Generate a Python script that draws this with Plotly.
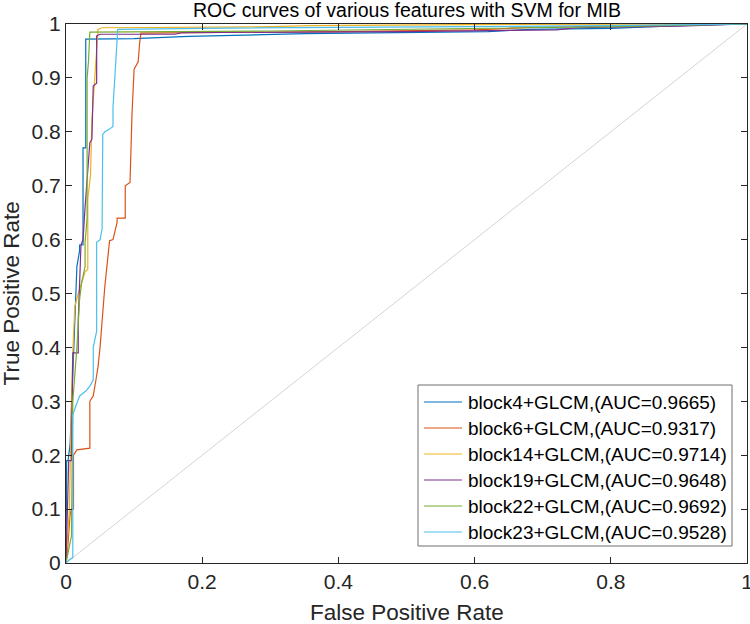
import plotly.graph_objects as go

# ---- data ----
labels = [
    "block4+GLCM,(AUC=0.9665)",
    "block6+GLCM,(AUC=0.9317)",
    "block14+GLCM,(AUC=0.9714)",
    "block19+GLCM,(AUC=0.9648)",
    "block22+GLCM,(AUC=0.9692)",
    "block23+GLCM,(AUC=0.9528)",
]

fpr_block4 = [0, 0.001, 0.003, 0.006, 0.01, 0.013, 0.016, 0.02, 0.02, 0.025, 0.025, 0.029, 0.029,
              0.1, 0.18, 0.35, 0.62, 0.68, 0.8, 0.9, 1]
tpr_block4 = [0, 0.19, 0.19, 0.22, 0.35, 0.45, 0.55, 0.58, 0.59, 0.59, 0.77, 0.77, 0.972,
              0.973, 0.977, 0.982, 0.986, 0.99, 0.992, 0.997, 1]

fpr_block6 = [0, 0.002, 0.006, 0.008, 0.011, 0.011, 0.016, 0.035, 0.035, 0.04, 0.044, 0.047, 0.050,
              0.053, 0.056, 0.057, 0.064, 0.069, 0.075, 0.075, 0.087, 0.087, 0.094, 0.097, 0.1,
              0.106, 0.108, 0.11, 0.4, 0.6, 0.69, 0.8, 1]
tpr_block6 = [0, 0.02, 0.09, 0.10, 0.10, 0.20, 0.21, 0.213, 0.30, 0.31, 0.34, 0.364, 0.40,
              0.45, 0.50, 0.513, 0.598, 0.60, 0.632, 0.64, 0.64, 0.70, 0.706, 0.836, 0.916,
              0.93, 0.963, 0.983, 0.986, 0.989, 0.994, 0.996, 1]

fpr_block14 = [0, 0.005, 0.008, 0.009, 0.010, 0.013, 0.018, 0.028, 0.032, 0.032, 0.036, 0.038,
               0.042, 0.045, 0.047, 0.053, 0.3, 0.36, 0.6, 1]
tpr_block14 = [0, 0.1, 0.3, 0.39, 0.392, 0.476, 0.50, 0.54, 0.545, 0.675, 0.72, 0.82,
               0.89, 0.95, 0.99, 0.993, 0.995, 0.997, 0.999, 1]

fpr_block19 = [0, 0.002, 0.004, 0.008, 0.010, 0.018, 0.018, 0.022, 0.025, 0.028, 0.032, 0.035,
               0.038, 0.040, 0.045, 0.045, 0.05, 0.16, 0.17, 0.5, 0.72, 0.75, 0.9, 1]
tpr_block19 = [0, 0.12, 0.19, 0.19, 0.39, 0.39, 0.45, 0.59, 0.60, 0.66, 0.725, 0.78,
               0.786, 0.885, 0.89, 0.978, 0.981, 0.981, 0.984, 0.986, 0.989, 0.993, 0.996, 1]

fpr_block22 = [0, 0.008, 0.010, 0.012, 0.016, 0.02, 0.023, 0.028, 0.028, 0.031, 0.031, 0.033,
               0.035, 0.3, 0.6, 0.8, 1]
tpr_block22 = [0, 0.05, 0.30, 0.335, 0.40, 0.49, 0.52, 0.55, 0.595, 0.64, 0.90, 0.93,
               0.985, 0.987, 0.992, 0.995, 1]

fpr_block23 = [0, 0.004, 0.010, 0.010, 0.014, 0.020, 0.030, 0.036, 0.040, 0.040, 0.045, 0.045,
               0.050, 0.053, 0.054, 0.057, 0.064, 0.069, 0.069, 0.072, 0.075, 0.076, 0.2, 0.5,
               0.8, 1]
tpr_block23 = [0, 0.005, 0.01, 0.275, 0.29, 0.31, 0.32, 0.33, 0.34, 0.40, 0.43, 0.595,
               0.60, 0.62, 0.795, 0.80, 0.805, 0.81, 0.845, 0.916, 0.987, 0.99, 0.992, 0.994,
               0.997, 1]

chance_x = [0, 1]
chance_y = [0, 1]

title_text = "ROC curves of various features with SVM for MIB"
x_title = "False Positive Rate"
y_title = "True Positive Rate"

colors = ["#0072BD", "#D95319", "#EDB120", "#7E2F8E", "#77AC30", "#4DBEEE"]

series = [
    (fpr_block4, tpr_block4),
    (fpr_block6, tpr_block6),
    (fpr_block14, tpr_block14),
    (fpr_block19, tpr_block19),
    (fpr_block22, tpr_block22),
    (fpr_block23, tpr_block23),
]

FONT = "Liberation Sans, Arial, Helvetica, sans-serif"
W, H = 750, 624
ML, MR, MT, MB = 66, 3, 24, 61
PW, PH = W - ML - MR, H - MT - MB


def px_x(px):
    return (px - ML) / PW


def px_y(py):
    return (H - MB - py) / PH


fig = go.Figure()
fig.add_trace(go.Scatter(x=chance_x, y=chance_y, mode="lines",
                         line=dict(color="#d4d4d4", width=1), showlegend=False,
                         hoverinfo="skip"))
for (xs, ys), name, c in zip(series, labels, colors):
    fig.add_trace(go.Scatter(x=xs, y=ys, mode="lines", name=name, showlegend=False,
                             line=dict(color=c, width=1.2)))

axis_common = dict(
    range=[0, 1], showgrid=False, zeroline=False, automargin=False,
    showline=True, linecolor="#262626", linewidth=1, mirror="ticks",
    ticks="inside", ticklen=6, tickcolor="#262626", tickwidth=1,
    tickfont=dict(family=FONT, size=21, color="#262626"),
    ticklabeloverflow="allow",
)

# legend box drawn as shapes + text (MATLAB-style placement)
LEG_L, LEG_R, LEG_T, LEG_B = 418, 732, 385, 546
ROW0, ROW_STEP = 402, 26
shapes = [dict(type="rect", xref="paper", yref="paper", layer="above",
               x0=px_x(LEG_L), x1=px_x(LEG_R), y0=px_y(LEG_B), y1=px_y(LEG_T),
               fillcolor="white", line=dict(color="#6e6e6e", width=1))]
annotations = []
for i, (name, c) in enumerate(zip(labels, colors)):
    yy = px_y(ROW0 + ROW_STEP * i)
    shapes.append(dict(type="line", xref="paper", yref="paper", layer="above",
                       x0=px_x(424), x1=px_x(462), y0=yy, y1=yy,
                       line=dict(color=c, width=1.2)))
    annotations.append(dict(text=name, xref="paper", yref="paper", x=px_x(466), y=yy,
                            xanchor="left", yanchor="middle", showarrow=False,
                            font=dict(family=FONT, size=19, color="#000000")))

annotations += [
    dict(text=title_text, xref="paper", yref="paper",
         x=0.5, y=px_y(10), xanchor="center", yanchor="middle",
         showarrow=False, font=dict(family=FONT, size=19.5, color="#000000")),
    dict(text=x_title, xref="paper", yref="paper",
         x=0.5, y=px_y(612), xanchor="center", yanchor="middle",
         showarrow=False, font=dict(family=FONT, size=22.5, color="#262626")),
    dict(text=y_title, xref="paper", yref="paper", textangle=-90,
         x=px_x(11), y=0.5, xanchor="center", yanchor="middle",
         showarrow=False, font=dict(family=FONT, size=22.5, color="#262626")),
]

fig.update_layout(
    width=W, height=H,
    paper_bgcolor="white", plot_bgcolor="white",
    margin=dict(l=ML, r=MR, t=MT, b=MB),
    font=dict(family=FONT, color="#262626"),
    xaxis=dict(**axis_common, dtick=0.2, tickformat="~g"),
    yaxis=dict(**axis_common, dtick=0.1, tickformat="~g"),
    showlegend=False,
    shapes=shapes,
    annotations=annotations,
)

fig.write_html("out.html", config={"displayModeBar": False},
               post_script="document.body.style.margin='0';document.body.style.overflow='hidden';")
